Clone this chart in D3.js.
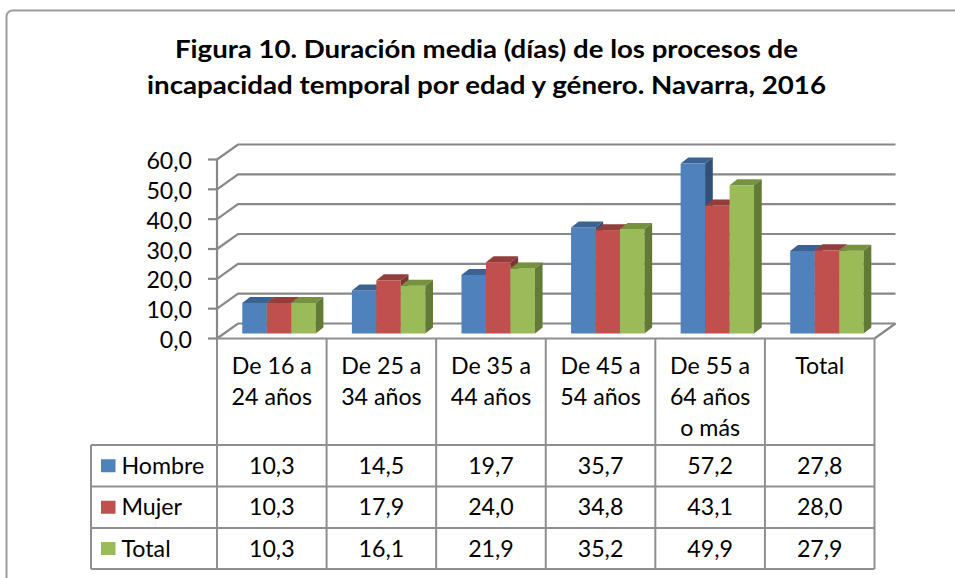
<!DOCTYPE html>
<html>
<head>
<meta charset="utf-8">
<script src="https://cdn.jsdelivr.net/npm/d3@7/dist/d3.min.js"></script>
<style>
    body { margin: 0; background: #fff; }
    svg { display: block; font-family: Lato, "Open Sans", sans-serif; }
</style>
</head>
<body>
<svg id="chart" width="955" height="578"></svg>
<script>
var titleLines = [
    'Figura 10. Duración media (días) de los procesos de',
    'incapacidad temporal por edad y género. Navarra, 2016'
];
var categories = [
    'De 16 a\n24 años',
    'De 25 a\n34 años',
    'De 35 a\n44 años',
    'De 45 a\n54 años',
    'De 55 a\n64 años\no más',
    'Total'
];
var seriesNames = ['Hombre', 'Mujer', 'Total'];
var hombre = [10.3, 14.5, 19.7, 35.7, 57.2, 27.8];
var mujer = [10.3, 17.9, 24.0, 34.8, 43.1, 28.0];
var total = [10.3, 16.1, 21.9, 35.2, 49.9, 27.9];
var yTicks = [0, 10, 20, 30, 40, 50, 60];

(function () {

    var svg = d3.select('#chart');
    var series = [hombre, mujer, total];
    var colors = {
        front: ['#4f81bd', '#c0504d', '#9bbb59'],
        top: ['#3b6392', '#923f3c', '#77923f'],
        side: ['#30507a', '#7f3533', '#627a35']
    };
    var grid = '#888';
    var rule = '#8f8f8f';
    var fontSize = 23.2;

    var es = d3.formatLocale({ decimal: ',', thousands: '.', grouping: [3], currency: ['', ' €'] });
    var fmt = es.format('.1f');

    // wall depth and bar depth of the 3d view
    var wall = { dx: 21, dy: -15 };
    var depth = { dx: 7.7, dy: -6 };

    var x = d3.scaleBand().domain(categories).range([217, 874.5]);
    var xs = d3.scaleBand().domain(seriesNames).range([25.3, 98.7]);
    var yFront = d3.scaleLinear().domain([0, 60]).range([338.5, 159.5]);
    var yBar = d3.scaleLinear().domain([0, 60]).range([333.5, 155.3]);

    var rows = [338.5, 445, 486.5, 528, 569];
    var tableLeft = 91;

    drawFrame();
    drawTitle();
    drawWalls();
    drawBars();
    drawTable();

    function drawFrame() {
        svg.append('rect')
            .attr('x', 6.5).attr('y', 10.5)
            .attr('width', 1200).attr('height', 1000)
            .attr('rx', 6)
            .attr('fill', 'none')
            .attr('stroke', '#9c9c9c')
            .attr('stroke-width', 2);
    }

    function drawTitle() {
        var widths = [623, 679];
        svg.append('g').selectAll('text')
            .data(titleLines)
            .join('text')
                .attr('x', 486.5)
                .attr('y', function (d, i) { return 58 + i * 36; })
                .attr('text-anchor', 'middle')
                .attr('font-size', 24.5)
                .attr('font-weight', 700)
                .attr('fill', '#000')
                .attr('textLength', function (d, i) { return widths[i]; })
                .attr('lengthAdjust', 'spacingAndGlyphs')
                .text(function (d) { return d; });
    }

    function drawWalls() {
        var g = svg.append('g').attr('fill', 'none').attr('stroke', grid).attr('stroke-width', 2.2);
        var x0 = x.range()[0];
        var x1 = x.range()[1];

        // back wall gridlines with their diagonal to the front axis
        g.selectAll('.gl')
            .data(yTicks)
            .join('path')
                .attr('class', 'gl')
                .attr('d', function (d) {
                    var yf = yFront(d);
                    return 'M' + x0 + ',' + yf + 'L' + (x0 + wall.dx) + ',' + (yf + wall.dy) +
                        'L' + (x1 + wall.dx) + ',' + (yf + wall.dy);
                });

        // floor right edge
        g.append('path')
            .attr('d', 'M' + x1 + ',' + yFront(0) + 'L' + (x1 + wall.dx) + ',' + (yFront(0) + wall.dy));

        // front value axis and ticks
        g.append('line')
            .attr('x1', x0).attr('x2', x0)
            .attr('y1', yFront(60)).attr('y2', yFront(0));

        g.selectAll('.tk')
            .data(yTicks)
            .join('line')
                .attr('class', 'tk')
                .attr('x1', x0 - 9).attr('x2', x0)
                .attr('y1', yFront).attr('y2', yFront);

        svg.append('g').selectAll('text')
            .data(yTicks)
            .join('text')
                .attr('x', 192)
                .attr('y', function (d) { return yFront(d) + 9.5; })
                .attr('text-anchor', 'end')
                .attr('font-size', fontSize)
                .attr('fill', '#000')
                .text(fmt);
    }

    function drawBars() {
        var g = svg.append('g');

        categories.forEach(function (c, ci) {
            series.forEach(function (values, si) {
                var bx = x(c) + xs(seriesNames[si]);
                var bw = xs.bandwidth();
                var top = yBar(values[ci]);
                var base = yBar(0);
                var bar = g.append('g');

                bar.append('rect')
                    .attr('x', bx).attr('y', top)
                    .attr('width', bw).attr('height', base - top)
                    .attr('fill', colors.front[si]);

                bar.append('path')
                    .attr('d', 'M' + bx + ',' + top + 'L' + (bx + depth.dx) + ',' + (top + depth.dy) +
                        'L' + (bx + bw + depth.dx) + ',' + (top + depth.dy) + 'L' + (bx + bw) + ',' + top + 'Z')
                    .attr('fill', colors.top[si]);

                bar.append('path')
                    .attr('d', 'M' + (bx + bw) + ',' + top + 'L' + (bx + bw + depth.dx) + ',' + (top + depth.dy) +
                        'L' + (bx + bw + depth.dx) + ',' + (base + depth.dy) + 'L' + (bx + bw) + ',' + base + 'Z')
                    .attr('fill', colors.side[si]);
            });
        });
    }

    function drawTable() {
        var g = svg.append('g').attr('stroke', rule).attr('stroke-width', 2).attr('fill', 'none');
        var x0 = x.range()[0];
        var x1 = x.range()[1];
        var bounds = categories.map(function (c) { return x(c); }).concat([x1]);

        // header top is the front edge of the floor
        g.append('line')
            .attr('x1', x0).attr('x2', x1)
            .attr('y1', rows[0]).attr('y2', rows[0]);

        g.selectAll('.hr')
            .data(rows.slice(1))
            .join('line')
                .attr('class', 'hr')
                .attr('x1', tableLeft).attr('x2', x1)
                .attr('y1', function (d) { return d; })
                .attr('y2', function (d) { return d; });

        g.selectAll('.vr')
            .data(bounds)
            .join('line')
                .attr('class', 'vr')
                .attr('x1', function (d) { return d; })
                .attr('x2', function (d) { return d; })
                .attr('y1', rows[0]).attr('y2', rows[4]);

        g.append('line')
            .attr('x1', tableLeft).attr('x2', tableLeft)
            .attr('y1', rows[1]).attr('y2', rows[4]);

        // category headers
        var head = svg.append('g')
            .attr('font-size', fontSize)
            .attr('fill', '#000')
            .attr('text-anchor', 'middle');

        categories.forEach(function (c) {
            var t = head.append('text')
                .attr('x', x(c) + x.bandwidth() / 2)
                .attr('y', 373.5);
            c.split('\n').forEach(function (line, i) {
                t.append('tspan')
                    .attr('x', x(c) + x.bandwidth() / 2)
                    .attr('dy', i ? 31.3 : 0)
                    .text(line);
            });
        });

        // legend keys and values
        series.forEach(function (values, si) {
            var cy = (rows[si + 1] + rows[si + 2]) / 2;

            svg.append('rect')
                .attr('x', 101).attr('y', cy - 6.5)
                .attr('width', 14.5).attr('height', 13)
                .attr('fill', colors.front[si]);

            svg.append('text')
                .attr('x', 121.5).attr('y', cy + 8.2)
                .attr('font-size', fontSize)
                .attr('fill', '#000')
                .text(seriesNames[si]);

            svg.append('g').selectAll('text')
                .data(values)
                .join('text')
                    .attr('x', function (d, i) { return x(categories[i]) + x.bandwidth() / 2; })
                    .attr('y', cy + 8.2)
                    .attr('text-anchor', 'middle')
                    .attr('font-size', fontSize)
                    .attr('fill', '#000')
                    .text(fmt);
        });
    }

})();
</script>
</body>
</html>
